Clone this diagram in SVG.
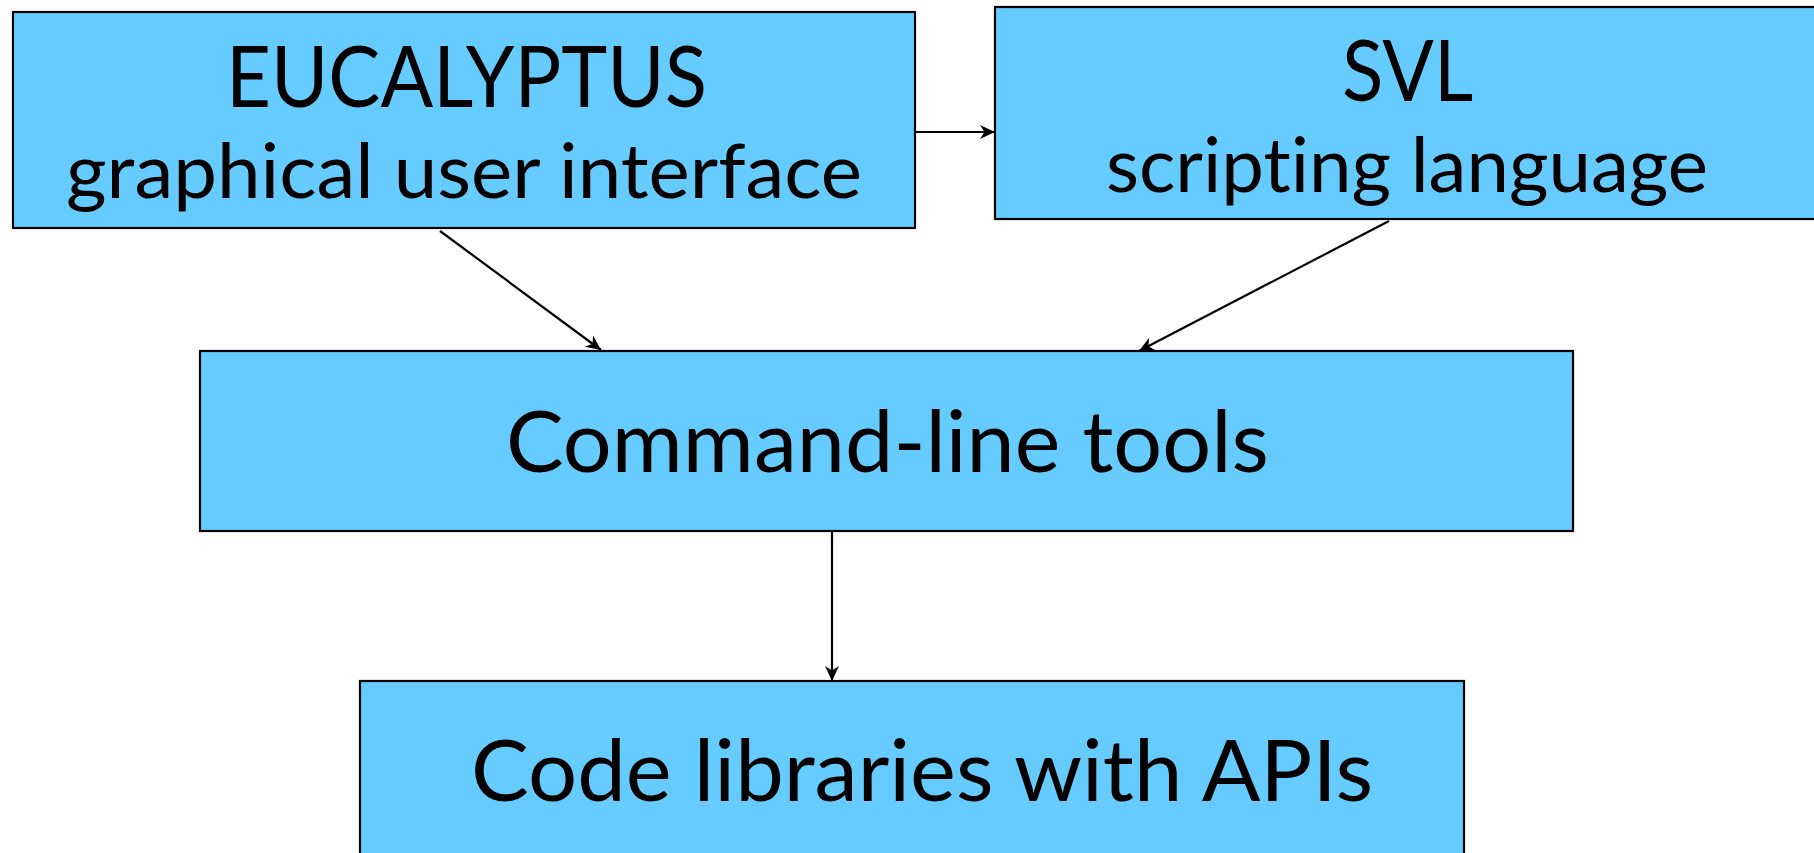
<svg xmlns="http://www.w3.org/2000/svg" width="1814" height="853" viewBox="0 0 1814 853">
<style>
.box{fill:#66CCFF;stroke:#000;stroke-width:2.2}
.big{font-family:Lato,"Liberation Sans",sans-serif;font-size:86px;fill:#000;font-variant-ligatures:none}
.small{font-family:Lato,"Liberation Sans",sans-serif;font-size:75px;fill:#000;font-variant-ligatures:none}
.conn{stroke:#000;stroke-width:2.2;fill:none;marker-end:url(#arr)}
</style>
<defs>
<marker id="arr" markerUnits="userSpaceOnUse" markerWidth="16" markerHeight="16" refX="15" refY="8" orient="auto">
<path d="M0,1 L15,8 L0,15 L4.5,8 z" fill="#000"/>
</marker>
</defs>
<rect width="1814" height="853" fill="#fff"/>
<g id="node-eucalyptus">
<rect class="box" x="13" y="12" width="902" height="216"/>
<text class="big" x="226" y="107" textLength="481" lengthAdjust="spacingAndGlyphs">EUCALYPTUS</text>
<text class="small" x="66" y="198" textLength="796" lengthAdjust="spacingAndGlyphs">graphical user interface</text>
</g>
<g id="node-svl">
<rect class="box" x="995" y="7" width="830" height="212"/>
<text class="big" x="1342" y="101" textLength="131" lengthAdjust="spacingAndGlyphs">SVL</text>
<text class="small" x="1106" y="192" textLength="602" lengthAdjust="spacingAndGlyphs">scripting language</text>
</g>
<g id="node-cmd">
<rect class="box" x="200" y="351" width="1373" height="180"/>
<text class="big" x="506" y="472" textLength="763" lengthAdjust="spacingAndGlyphs">Command-line tools</text>
</g>
<g id="node-code">
<rect class="box" x="360" y="681" width="1104" height="200"/>
<text class="big" x="471" y="801" textLength="902" lengthAdjust="spacingAndGlyphs">Code libraries with APIs</text>
</g>
<g id="connectors">
<line class="conn" x1="915" y1="132" x2="995" y2="132"/>
<line class="conn" x1="440" y1="231" x2="601" y2="350"/>
<line class="conn" x1="1389" y1="221" x2="1139" y2="351"/>
<line class="conn" x1="832" y1="530" x2="832" y2="681"/>
</g>
</svg>
